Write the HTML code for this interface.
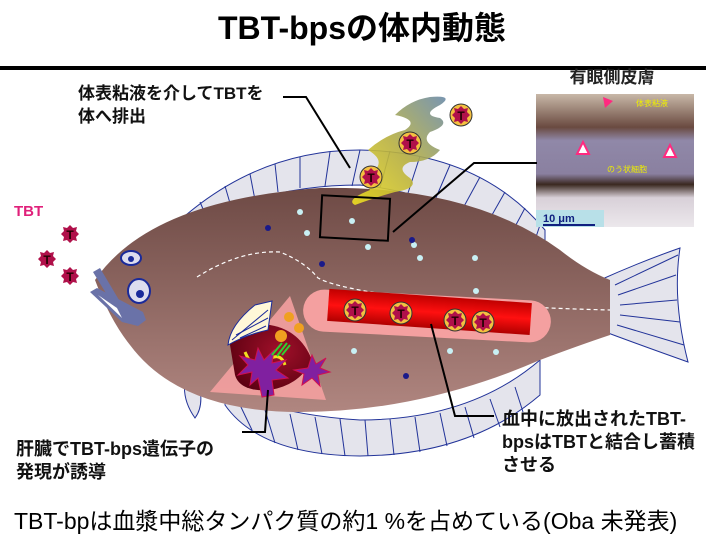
<!DOCTYPE html>
<html><head><meta charset="utf-8"><style>
html,body{margin:0;padding:0;background:#fff;width:720px;height:540px;overflow:hidden}
svg{display:block}
text{font-family:"Liberation Sans","Noto Sans CJK JP",sans-serif}
</style></head><body>
<svg width="720" height="540" viewBox="0 0 720 540" xmlns="http://www.w3.org/2000/svg">
<defs>
<linearGradient id="body" x1="0" y1="0" x2="0" y2="1">
<stop offset="0" stop-color="#6e4a45"/><stop offset="1" stop-color="#b08680"/></linearGradient>
<linearGradient id="mucus" x1="0" y1="1" x2="1" y2="0">
<stop offset="0" stop-color="#f0e020"/><stop offset="0.5" stop-color="#b8b040"/><stop offset="1" stop-color="#6a8aa8"/></linearGradient>
<linearGradient id="vessel" x1="0" y1="0" x2="0" y2="1">
<stop offset="0" stop-color="#c00000"/><stop offset="0.5" stop-color="#ff1010"/><stop offset="1" stop-color="#b00000"/></linearGradient>
<radialGradient id="liver" cx="0.6" cy="0.4" r="0.7"><stop offset="0" stop-color="#a0102a"/><stop offset="1" stop-color="#5a0010"/></radialGradient>
<linearGradient id="photo" x1="0" y1="0" x2="0" y2="1">
<stop offset="0" stop-color="#c8b8a8"/><stop offset="0.25" stop-color="#6a4a40"/><stop offset="0.35" stop-color="#9088a8"/><stop offset="0.6" stop-color="#8a80a0"/><stop offset="0.68" stop-color="#3a2820"/><stop offset="0.78" stop-color="#d8d0d8"/><stop offset="1" stop-color="#ece8ec"/></linearGradient>
<g id="star"><polygon points="0,-9 3,-6 7,-7 6,-3 9,0 6,3 7,7 3,6 0,9 -3,6 -7,7 -6,3 -9,0 -6,-3 -7,-7 -3,-6" fill="#b0104a"/><text x="0" y="5" font-size="12" text-anchor="middle" font-family="Liberation Serif,serif" font-weight="bold" fill="#200">T</text></g>
<g id="ct"><circle r="11" fill="#f4c040" stroke="#333" stroke-width="1"/><use href="#star"/></g>
</defs>

<text x="362" y="39" font-size="32" font-weight="bold" text-anchor="middle" fill="#000">TBT-bpsの体内動態</text>
<rect x="0" y="66" width="706" height="4" fill="#000"/>

<!-- dorsal fin -->
<path d="M150,250 Q240,150 360,150 Q480,152 545,230 L545,310 Q500,200 360,185 Q230,185 150,260 Z" fill="#e4e4ec" stroke="#223399" stroke-width="1"/>
<g stroke="#223399" stroke-width="1">
<line x1="175" y1="223" x2="185" y2="245"/><line x1="200" y1="202" x2="210" y2="225"/><line x1="225" y1="186" x2="232" y2="210"/><line x1="250" y1="174" x2="255" y2="200"/><line x1="275" y1="164" x2="278" y2="192"/><line x1="300" y1="157" x2="300" y2="188"/><line x1="330" y1="152" x2="325" y2="186"/><line x1="360" y1="150" x2="352" y2="186"/><line x1="390" y1="151" x2="380" y2="188"/><line x1="420" y1="156" x2="408" y2="193"/><line x1="450" y1="165" x2="435" y2="200"/><line x1="480" y1="177" x2="462" y2="210"/><line x1="505" y1="192" x2="488" y2="222"/><line x1="525" y1="208" x2="510" y2="236"/><line x1="540" y1="225" x2="530" y2="255"/>
</g>
<!-- ventral fin -->
<path d="M225,405 Q260,455 360,456 Q470,455 540,395 L540,360 Q470,420 360,420 Q280,415 225,390 Z" fill="#e4e4ec" stroke="#223399" stroke-width="1"/>
<g stroke="#223399" stroke-width="1">
<line x1="240" y1="405" x2="252" y2="430"/><line x1="265" y1="410" x2="275" y2="443"/><line x1="290" y1="414" x2="298" y2="450"/><line x1="315" y1="417" x2="322" y2="454"/><line x1="340" y1="419" x2="345" y2="456"/><line x1="365" y1="420" x2="368" y2="456"/><line x1="390" y1="419" x2="394" y2="455"/><line x1="415" y1="417" x2="420" y2="452"/><line x1="440" y1="413" x2="447" y2="446"/><line x1="465" y1="407" x2="474" y2="438"/><line x1="490" y1="399" x2="500" y2="427"/><line x1="515" y1="387" x2="523" y2="412"/>
</g>
<!-- pelvic fin -->
<path d="M185,380 Q182,400 195,418 Q205,405 198,380 Z" fill="#e4e4ec" stroke="#223399"/>
<!-- tail -->
<path d="M600,280 Q640,262 680,248 Q672,300 688,362 Q640,345 600,330 Z" fill="#e4e4ec" stroke="#223399"/>
<g stroke="#223399"><line x1="615" y1="285" x2="678" y2="255"/><line x1="618" y1="295" x2="676" y2="275"/><line x1="620" y1="305" x2="677" y2="300"/><line x1="620" y1="315" x2="680" y2="322"/><line x1="617" y1="325" x2="684" y2="345"/></g>
<!-- body -->
<path d="M95,280 Q150,200 320,188 Q470,185 560,250 Q585,270 610,280 L610,335 Q580,345 540,360 Q420,412 300,412 Q180,412 130,345 Q110,320 95,280 Z" fill="url(#body)"/>
<!-- mouth -->
<path d="M93,272 L100,268 L122,305 L115,308 Z" fill="#6a72a8"/>
<path d="M90,292 L97,288 L143,312 L146,320 L138,326 L122,322 Z" fill="#6a72a8"/>
<path d="M98,295 L117,308 L122,318 Z" fill="#fff"/>
<!-- eyes -->
<ellipse cx="131" cy="258" rx="10" ry="7" fill="#dde" stroke="#1a2a9a" stroke-width="2"/><circle cx="131" cy="259" r="3" fill="#1a2a9a"/>
<ellipse cx="139" cy="291" rx="11" ry="12" fill="#dde" stroke="#1a2a9a" stroke-width="2"/><circle cx="140" cy="294" r="4" fill="#1a2a9a"/>
<!-- lateral line -->
<path d="M197,277 Q240,250 280,252 Q305,262 318,278 Q340,290 430,300 Q520,308 610,310" fill="none" stroke="#fff" stroke-width="1.2" stroke-dasharray="4,3"/>
<!-- dots -->
<g fill="#c8f0f4"><circle cx="300" cy="212" r="3"/><circle cx="307" cy="233" r="3"/><circle cx="352" cy="221" r="3"/><circle cx="368" cy="247" r="3"/><circle cx="414" cy="245" r="3"/><circle cx="475" cy="258" r="3"/><circle cx="420" cy="258" r="3"/><circle cx="476" cy="291" r="3"/><circle cx="354" cy="351" r="3"/><circle cx="450" cy="351" r="3"/><circle cx="496" cy="352" r="3"/></g>
<g fill="#1a1a8a"><circle cx="268" cy="228" r="3"/><circle cx="412" cy="240" r="3"/><circle cx="322" cy="264" r="3"/><circle cx="406" cy="376" r="3"/></g>
<!-- liver area -->
<polygon points="210,392 290,296 326,400" fill="#f4a0a0" opacity="0.9"/>
<path d="M230,345 Q235,320 270,325 Q300,330 312,360 Q300,385 270,390 Q240,392 235,375 Z" fill="url(#liver)"/>
<path d="M245,352 Q255,375 265,362 Q280,350 285,365" fill="none" stroke="#f0e020" stroke-width="3"/>
<path d="M228,345 Q230,325 255,305 L272,301 L268,330 Q245,335 228,345 Z" fill="#fff8d8" stroke="#1a2a9a"/>
<g stroke="#1a2a9a"><line x1="232" y1="340" x2="268" y2="310"/><line x1="236" y1="335" x2="268" y2="318"/><line x1="240" y1="338" x2="266" y2="326"/></g>
<polygon points="308,368 312,355 316,364 326,358 320,368 330,372 318,375 320,386 312,378 302,385 304,374 294,370" fill="#8020a0" stroke="#d01050"/>
<polygon points="262,397 258,378 250,385 252,372 238,375 248,365 240,356 255,360 258,348 264,360 274,350 272,363 286,360 276,370 288,378 272,380 274,395" fill="#8020a0" stroke="#d01050"/>
<g fill="#f0a020"><circle cx="289" cy="317" r="5"/><circle cx="299" cy="328" r="5"/><circle cx="281" cy="336" r="6"/></g>
<path d="M272,355 L282,343 M277,356 L287,343 M282,355 L290,345" stroke="#30d030" stroke-width="2"/>
<!-- vessel -->
<rect x="303" y="295" width="248" height="42" rx="21" fill="#f4a0a0" transform="rotate(3 427 316)"/>
<rect x="328" y="296" width="203" height="32" fill="url(#vessel)" transform="rotate(4 430 312)"/>
<use href="#ct" x="355" y="310"/><use href="#ct" x="401" y="313"/><use href="#ct" x="455" y="320"/><use href="#ct" x="483" y="322"/>
<!-- mucus -->
<path d="M355,205 Q345,200 370,190 Q360,175 375,170 Q385,160 368,150 Q385,135 405,130 Q420,120 395,115 Q410,100 430,97 Q455,95 440,105 Q420,115 440,118 Q450,125 430,132 Q420,142 440,150 Q430,162 410,162 Q395,168 410,178 Q420,188 395,192 Q380,196 355,205 Z" fill="url(#mucus)" opacity="0.9"/>
<use href="#ct" x="371" y="177"/><use href="#ct" x="410" y="143"/><use href="#ct" x="461" y="115"/>
<rect x="321" y="197" width="68" height="42" fill="none" stroke="#000" stroke-width="2" transform="rotate(3 355 218)"/>
<!-- TBT -->
<text x="14" y="216" font-size="15" font-weight="bold" fill="#e0207a">TBT</text>
<use href="#star" x="70" y="234"/><use href="#star" x="47" y="259"/><use href="#star" x="70" y="276"/>
<!-- photo -->
<rect x="536" y="94" width="158" height="133" fill="url(#photo)"/>
<rect x="536" y="210" width="68" height="17" fill="#b8e0e8"/>
<text x="543" y="222" font-size="11" font-weight="bold" fill="#102080">10 μm</text>
<line x1="543" y1="225" x2="595" y2="225" stroke="#102080" stroke-width="2"/>
<text x="636" y="106" font-size="8" fill="#ee0">体表粘液</text>
<text x="607" y="172" font-size="8" fill="#ee0">のう状細胞</text>
<polygon points="603,97 613,101 605,108" fill="#ff2a80"/>
<polygon points="583,142 577,154 589,154" fill="#fff" stroke="#ff2a80" stroke-width="2"/>
<polygon points="670,145 664,157 676,157" fill="#fff" stroke="#ff2a80" stroke-width="2"/>
<text x="612" y="83" font-size="17" font-weight="bold" text-anchor="middle" fill="#222">有眼側皮膚</text>
<!-- leaders -->
<polyline points="283,97 306,97 350,168" fill="none" stroke="#000" stroke-width="2"/>
<polyline points="537,163 474,163 393,232" fill="none" stroke="#000" stroke-width="2"/>
<polyline points="431,324 455,416 494,416" fill="none" stroke="#000" stroke-width="2"/>
<polyline points="268,390 265,432 242,432" fill="none" stroke="#000" stroke-width="2"/>
<!-- labels -->
<g font-size="18" font-weight="bold" fill="#111">
<text x="78" y="99" font-size="17">体表粘液を介してTBTを</text>
<text x="78" y="122" font-size="17">体へ排出</text>
<text x="16" y="455">肝臓でTBT-bps遺伝子の</text>
<text x="16" y="478">発現が誘導</text>
<text x="502" y="425">血中に放出されたTBT-</text>
<text x="502" y="448">bpsはTBTと結合し蓄積</text>
<text x="502" y="471">させる</text>
</g>
<text x="14" y="529" font-size="23" fill="#000">TBT-bpは血漿中総タンパク質の約1 %を占めている(Oba 未発表)</text>
</svg>
</body></html>
